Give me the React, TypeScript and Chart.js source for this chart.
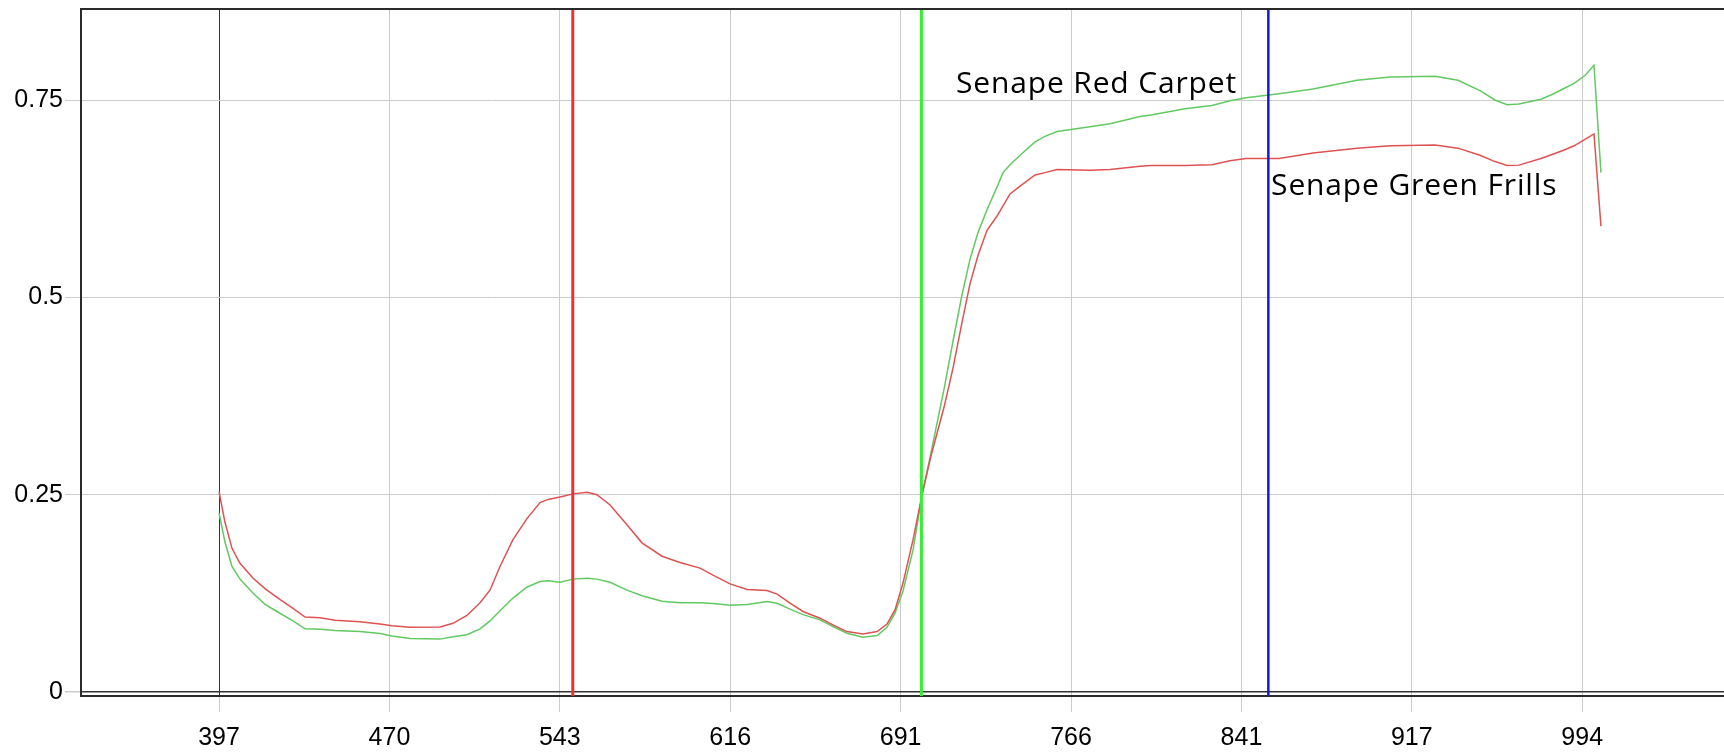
import React, { useEffect, useRef } from 'react';
import { Chart, registerables } from 'chart.js';

Chart.register(...registerables);

// Sample positions along the x axis, measured in tick intervals (0 = "397", 8 = "994")
const bandPos = [
  0, 0.035, 0.076, 0.123, 0.2, 0.27, 0.34, 0.434, 0.505, 0.593,
  0.681, 0.827, 0.945, 1.015, 1.121, 1.297, 1.373, 1.455, 1.532, 1.59,
  1.649, 1.725, 1.808, 1.884, 1.931, 2.001, 2.077, 2.16, 2.218, 2.295,
  2.394, 2.482, 2.6, 2.705, 2.823, 2.899, 2.999, 3.099, 3.216, 3.275,
  3.351, 3.427, 3.527, 3.603, 3.685, 3.779, 3.862, 3.92, 3.967, 4.014,
  4.073, 4.126, 4.178, 4.255, 4.308, 4.36, 4.407, 4.454, 4.507, 4.566,
  4.601, 4.642, 4.701, 4.789, 4.847, 4.918, 5.111, 5.229, 5.405, 5.469,
  5.669, 5.827, 5.933, 6.027, 6.221, 6.42, 6.678, 6.813, 6.878, 7.136,
  7.271, 7.4, 7.488, 7.559, 7.629, 7.758, 7.823, 7.887, 7.952, 8.016,
  8.069, 8.11,
];

// Red spectrum
const redSeries = [
  0.254, 0.215, 0.182, 0.163, 0.144, 0.131, 0.12, 0.106, 0.095, 0.094,
  0.091, 0.089, 0.086, 0.084, 0.082, 0.0825, 0.087, 0.097, 0.113, 0.129,
  0.159, 0.193, 0.22, 0.24, 0.244, 0.247, 0.251, 0.253, 0.25, 0.237,
  0.212, 0.189, 0.172, 0.164, 0.157, 0.148, 0.137, 0.13, 0.1286, 0.124,
  0.1125, 0.102, 0.0935, 0.085, 0.0765, 0.0736, 0.0765, 0.086, 0.104, 0.138,
  0.193, 0.25, 0.299, 0.361, 0.411, 0.468, 0.517, 0.553, 0.585, 0.603,
  0.616, 0.631, 0.641, 0.655, 0.658, 0.662, 0.661, 0.662, 0.666, 0.667,
  0.667, 0.668, 0.673, 0.676, 0.676, 0.683, 0.689, 0.691, 0.692, 0.693,
  0.689, 0.68, 0.672, 0.667, 0.6675, 0.676, 0.681, 0.686, 0.692, 0.7,
  0.707, 0.59,
];

// Green spectrum
const greenSeries = [
  0.227, 0.19, 0.159, 0.143, 0.125, 0.111, 0.102, 0.09, 0.08, 0.0795,
  0.078, 0.0765, 0.074, 0.071, 0.0677, 0.067, 0.07, 0.0725, 0.08, 0.09,
  0.103, 0.119, 0.133, 0.14, 0.141, 0.139, 0.143, 0.144, 0.143, 0.139,
  0.129, 0.122, 0.115, 0.113, 0.113, 0.112, 0.11, 0.111, 0.1146, 0.1125,
  0.105, 0.098, 0.0914, 0.083, 0.0745, 0.0694, 0.0715, 0.082, 0.1, 0.128,
  0.18, 0.25, 0.303, 0.384, 0.445, 0.503, 0.548, 0.582, 0.611, 0.64,
  0.658, 0.668, 0.68, 0.697, 0.704, 0.71, 0.716, 0.72, 0.729, 0.731,
  0.739, 0.743, 0.749, 0.753, 0.758, 0.764, 0.775, 0.778, 0.779, 0.78,
  0.775, 0.762, 0.75, 0.744, 0.745, 0.751, 0.757, 0.764, 0.771, 0.781,
  0.794, 0.658,
];

const xTickPos = [0, 1, 2, 3, 4, 5, 6, 7, 8];
const xTickLabels = ['397', '470', '543', '616', '691', '766', '841', '917', '994'];
const yTickValues = [0, 0.25, 0.5, 0.75];
const yTickLabels = ['0', '0.25', '0.5', '0.75'];

const xRange = [-0.81, 8.832];
const yRange = [-0.00507, 0.8653];

// Vertical marker lines
const markerPos = [2.076, 4.122, 6.158];
const markerColors = ['#ea3333', '#35ee35', '#1616dd'];
const markerWidths = [3, 3, 2.5];

// Text annotations (anchored at data coordinates, left/baseline)
const noteText = ['Senape Red Carpet', 'Senape Green Frills'];
const noteX = [4.325, 6.174];
const noteY = [0.759, 0.63];

const GRID = '#cccccc';
const DARK = '#2a2a2a';

const framePlugin = {
  id: 'frameAndNotes',
  afterDraw(chart: any) {
    const { ctx, chartArea, scales } = chart;
    ctx.save();
    ctx.strokeStyle = DARK;
    ctx.lineWidth = 2;
    ctx.beginPath();
    ctx.moveTo(chartArea.left, chartArea.top);
    ctx.lineTo(chartArea.right, chartArea.top);
    ctx.stroke();
    ctx.fillStyle = '#000';
    ctx.font = '30px "Open Sans"';
    ctx.textAlign = 'left';
    ctx.textBaseline = 'alphabetic';
    try {
      (ctx as any).letterSpacing = '0.85px';
    } catch (e) {}
    noteText.forEach((t, i) => {
      ctx.fillText(t, scales.x.getPixelForValue(noteX[i]), scales.y.getPixelForValue(noteY[i]));
    });
    ctx.restore();
  },
};

export default function App() {
  const canvasRef = useRef<HTMLCanvasElement | null>(null);

  useEffect(() => {
    const canvas = canvasRef.current;
    if (!canvas) return;

    const markerSets = markerPos.map((p, i) => ({
      label: 'marker' + i,
      data: [
        { x: p, y: yRange[0] },
        { x: p, y: yRange[1] },
      ],
      borderColor: markerColors[i],
      borderWidth: markerWidths[i],
      pointRadius: 0,
      fill: false,
      order: 0,
    }));

    const chart = new Chart(canvas, {
      type: 'line',
      data: {
        datasets: [
          ...markerSets,
          {
            label: 'Senape Green Frills',
            data: bandPos.map((x, i) => ({ x, y: redSeries[i] })),
            borderColor: '#de5252',
            borderWidth: 1.5,
            pointRadius: 0,
            tension: 0,
            fill: false,
            order: 1,
          },
          {
            label: 'Senape Red Carpet',
            data: bandPos.map((x, i) => ({ x, y: greenSeries[i] })),
            borderColor: '#62c962',
            borderWidth: 1.5,
            pointRadius: 0,
            tension: 0,
            fill: false,
            order: 1,
          },
        ],
      },
      options: {
        animation: false,
        responsive: false,
        events: [],
        layout: { padding: { top: 9, left: 0, right: 0, bottom: 0 } },
        plugins: {
          legend: { display: false },
          tooltip: { enabled: false },
          title: { display: false },
        },
        scales: {
          x: {
            type: 'linear',
            min: xRange[0],
            max: xRange[1],
            afterBuildTicks: (s: any) => {
              s.ticks = xTickPos.map((v) => ({ value: v }));
            },
            afterFit: (s: any) => {
              s.height = 56;
              s.paddingLeft = 0;
              s.paddingRight = 0;
            },
            ticks: {
              autoSkip: false,
              maxRotation: 0,
              padding: 11,
              color: '#000',
              font: { family: 'Liberation Sans', size: 25 },
              callback: (_v: any, i: number) => xTickLabels[i],
            },
            grid: {
              color: (c: any) => (c.tick && c.tick.value === 0 ? '#333333' : GRID),
              lineWidth: 1,
              tickLength: 16,
              tickColor: GRID,
              drawTicks: true,
            },
            border: { display: true, color: DARK, width: 2 },
          },
          y: {
            type: 'linear',
            min: yRange[0],
            max: yRange[1],
            afterBuildTicks: (s: any) => {
              s.ticks = yTickValues.map((v) => ({ value: v }));
            },
            afterFit: (s: any) => {
              s.width = 81;
              s.paddingTop = 0;
              s.paddingBottom = 0;
            },
            ticks: {
              padding: 2,
              color: '#000',
              font: { family: 'Liberation Sans', size: 25 },
              callback: (_v: any, i: number) => yTickLabels[i],
            },
            grid: {
              color: (c: any) => (c.tick && c.tick.value === 0 ? '#333333' : GRID),
              lineWidth: (c: any) => (c.tick && c.tick.value === 0 ? 1.5 : 1),
              tickLength: 16,
              tickColor: GRID,
              drawTicks: true,
            },
            border: { display: true, color: DARK, width: 2 },
          },
        },
      },
      plugins: [framePlugin],
    } as any);

    return () => chart.destroy();
  }, []);

  return (
    <div style={{ position: 'absolute', left: 0, top: 0, width: 1724, height: 752, background: '#fff' }}>
      <canvas ref={canvasRef} width={1724} height={752} style={{ display: 'block' }} />
    </div>
  );
}
